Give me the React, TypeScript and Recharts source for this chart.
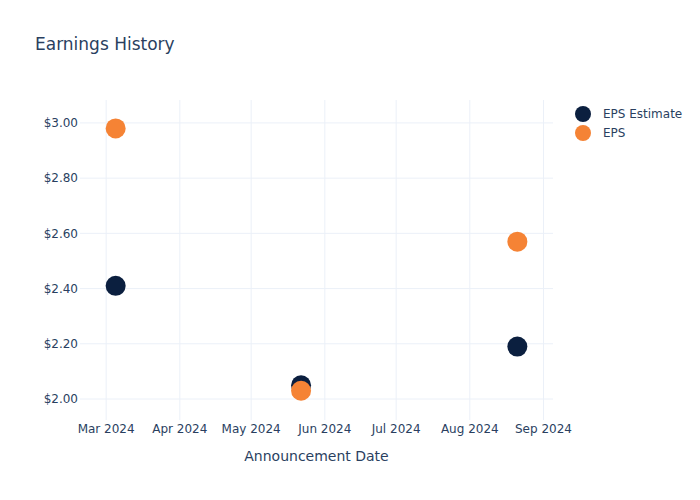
import React from 'react'
import { ScatterChart, Scatter, XAxis, YAxis, CartesianGrid } from 'recharts'

const announcementDates = ['2024-03-05', '2024-05-22', '2024-08-21']
const epsEstimate = [2.41, 2.05, 2.19]
const epsActual = [2.98, 2.03, 2.57]
const monthTicks = ['2024-03-01', '2024-04-01', '2024-05-01', '2024-06-01', '2024-07-01', '2024-08-01', '2024-09-01']
const yTicks = [2.0, 2.2, 2.4, 2.6, 2.8, 3.0]
const xRange = ['2024-02-19', '2024-09-05']
const yRange = [1.924, 3.083]

const MONTHS = ['Jan', 'Feb', 'Mar', 'Apr', 'May', 'Jun', 'Jul', 'Aug', 'Sep', 'Oct', 'Nov', 'Dec']
const NAVY = '#0b1f3f'
const ORANGE = '#f58335'
const TEXT = '#2a3f5f'
const FONT = '"DejaVu Sans", Verdana, sans-serif'

const ts = (d: string) => Date.parse(d + 'T00:00:00Z')

const estimateData = announcementDates.map((d, i) => ({ x: ts(d), y: epsEstimate[i] }))
const epsData = announcementDates.map((d, i) => ({ x: ts(d), y: epsActual[i] }))

const fmtMonth = (v: number) => {
  const d = new Date(v)
  return `${MONTHS[d.getUTCMonth()]} ${d.getUTCFullYear()}`
}

const dot = (color: string) => (props: any) => (
  <circle cx={props.cx} cy={props.cy} r={10} fill={color} />
)

const series = [
  { name: 'EPS Estimate', color: NAVY },
  { name: 'EPS', color: ORANGE },
]

function LegendBox() {
  return (
    <svg width={130} height={40} style={{ position: 'absolute', left: 575, top: 105 }}>
      {series.map((s, i) => (
        <g key={s.name}>
          <circle cx={8} cy={9 + i * 19} r={8} fill={s.color} />
          <text x={28} y={13 + i * 19} fontSize={12} fill={TEXT} fontFamily={FONT}>
            {s.name}
          </text>
        </g>
      ))}
    </svg>
  )
}

export default function App() {
  return (
    <div style={{ position: 'absolute', left: 0, top: 0, width: 700, height: 500, background: '#fff' }}>
      <div style={{ position: 'absolute', left: 35, top: 34, fontSize: 17, color: TEXT, fontFamily: FONT }}>
        Earnings History
      </div>
      <ScatterChart width={700} height={500} margin={{ top: 100, right: 147, bottom: 50, left: 20 }}>
        <CartesianGrid stroke="#ebf0f8" strokeWidth={1} syncWithTicks />
        <XAxis
          type="number"
          dataKey="x"
          domain={[ts(xRange[0]), ts(xRange[1])]}
          ticks={monthTicks.map(ts)}
          tickFormatter={fmtMonth}
          axisLine={false}
          tickLine={false}
          tickSize={0}
          tickMargin={4}
          interval={0}
          allowDataOverflow
          tick={{ fill: TEXT, fontSize: 12, fontFamily: FONT }}
          label={{ value: 'Announcement Date', position: 'bottom', offset: 1, fill: TEXT, fontSize: 14, fontFamily: FONT }}
          height={30}
        />
        <YAxis
          type="number"
          dataKey="y"
          domain={yRange}
          ticks={yTicks}
          tickFormatter={(v: number) => `$${v.toFixed(2)}`}
          axisLine={false}
          tickLine={false}
          tickSize={0}
          tickMargin={2}
          interval={0}
          allowDataOverflow
          width={60}
          tick={{ fill: TEXT, fontSize: 12, fontFamily: FONT }}
        />
        <Scatter name="EPS Estimate" data={estimateData} fill={NAVY} shape={dot(NAVY)} isAnimationActive={false} />
        <Scatter name="EPS" data={epsData} fill={ORANGE} shape={dot(ORANGE)} isAnimationActive={false} />
      </ScatterChart>
      <LegendBox />
    </div>
  )
}
